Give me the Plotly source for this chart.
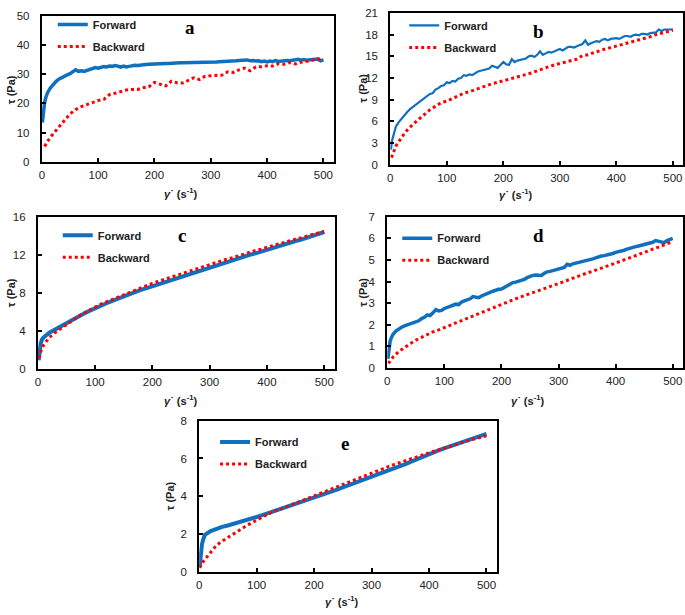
import plotly.graph_objects as go

W, H = 685, 615

# ---------------- data ----------------
# panel a
fa_x = [1, 2, 3, 5, 7.5] + list(range(10, 505, 5))
fa_y = [13.5, 16.0, 18.0, 20.5, 22.3,
        23.6, 25.3, 26.5, 27.5, 28.3, 28.9, 29.4, 29.8, 30.2, 30.8,
        31.5, 31.0, 31.2, 31.0, 31.4, 31.6, 32.0, 32.3, 32.1, 32.4,
        32.6, 32.5, 32.8, 32.7, 33.0, 32.8, 32.4, 32.8, 32.5, 32.7,
        33.0, 33.1, 33.0, 33.2, 33.3, 33.3, 33.4, 33.5, 33.5, 33.6,
        33.6, 33.6, 33.7, 33.7, 33.8, 33.8, 33.8, 33.9, 33.9, 33.9,
        34.0, 34.0, 34.0, 34.0, 34.1, 34.1, 34.0, 34.1, 34.1, 34.2,
        34.2, 34.3, 34.3, 34.4, 34.4, 34.5, 34.5, 34.6, 34.7, 34.7,
        34.8, 34.9, 34.6, 34.7, 34.5, 34.6, 34.3, 34.5, 34.2, 34.5,
        34.3, 34.7, 34.4, 34.6, 34.5, 34.7, 34.6, 34.8, 34.7, 35.1,
        34.8, 35.0, 34.8, 35.0, 34.9, 35.1, 35.2, 34.6, 34.9]
ba_x = [5] + list(range(10, 510, 10))
ba_y = [5.3, 7.0, 9.6, 12.0, 14.4, 16.4, 17.9, 18.9, 19.6, 20.4, 21.0,
        21.4, 23.0, 23.5, 24.0, 24.6, 24.8, 24.8, 25.4, 25.7, 27.2,
        26.6, 26.0, 27.6, 27.1, 27.0, 27.8, 28.8, 28.2, 29.3, 29.5,
        29.6, 29.7, 30.8, 30.6, 31.5, 32.1, 31.2, 32.5, 32.6, 32.9,
        32.8, 33.6, 33.4, 34.0, 33.5, 34.1, 34.4, 34.9, 35.2, 35.3]

# panel b
fb_x = [1, 2, 3, 5, 7.5] + list(range(10, 505, 5))
fb_y = [2.1, 2.8, 3.3, 3.9, 4.7,
        5.3, 5.9, 6.4, 6.9, 7.3, 7.7, 8.0, 8.3, 8.6, 9.0,
        9.3, 9.5, 9.8, 9.9, 10.4, 10.6, 10.9, 11.0, 11.4, 11.3,
        11.6, 11.5, 11.9, 12.0, 12.4, 12.3, 12.5, 12.4, 12.7, 12.9,
        13.0, 13.1, 13.1, 13.3, 13.7, 13.5, 13.4, 13.8, 14.2, 13.9,
        13.8, 14.6, 14.2, 14.4, 14.5, 14.7, 14.7, 15.0, 15.1, 14.9,
        15.2, 15.7, 15.2, 15.4, 15.6, 15.5, 15.7, 15.8, 16.0, 15.8,
        16.1, 16.3, 16.3, 16.2, 16.4, 16.6, 16.7, 17.2, 16.6, 16.8,
        16.9, 17.1, 17.0, 17.3, 17.4, 17.2, 17.4, 17.5, 17.5, 17.4,
        17.6, 17.8, 17.8, 17.7, 17.9, 18.0, 17.9, 18.1, 18.1, 18.0,
        18.2, 18.3, 18.3, 18.7, 18.5, 18.7, 18.7, 18.6, 18.7]
bb_x = [2, 5] + list(range(10, 510, 10))
bb_y = [1.0, 1.6, 2.6, 3.8, 4.8, 5.6, 6.3, 7.0, 7.6, 8.1, 8.6, 8.8,
        9.2, 9.5, 9.9, 10.1, 10.4, 10.7, 11.0, 11.2, 11.4, 11.6,
        11.9, 12.0, 12.3, 12.5, 12.7, 13.0, 13.3, 13.6, 13.8, 14.0,
        14.2, 14.4, 14.6, 15.1, 15.2, 15.5, 15.8, 16.0, 16.2, 16.4,
        16.6, 16.8, 17.0, 17.2, 17.4, 17.7, 18.0, 18.2, 18.4, 18.6]

# panel c
fc_x = [1.5, 2, 3, 5, 7.5] + list(range(10, 510, 10))
fc_y = [0.9, 1.4, 2.0, 2.7, 3.1,
        3.3, 3.8, 4.15, 4.5, 4.8, 5.15, 5.5, 5.8, 6.1, 6.4,
        6.65, 6.9, 7.15, 7.4, 7.6, 7.85, 8.05, 8.3, 8.5, 8.7,
        8.9, 9.1, 9.3, 9.5, 9.7, 9.9, 10.1, 10.3, 10.5, 10.7,
        10.9, 11.05, 11.25, 11.45, 11.6, 11.8, 12.0, 12.15, 12.35, 12.5,
        12.7, 12.9, 13.05, 13.25, 13.45, 13.6, 13.8, 14.0, 14.2, 14.4]
bc_x = [2, 5] + list(range(10, 510, 10))
bc_y = [1.1, 1.8, 2.5, 3.3, 3.8, 4.25, 4.7, 5.1, 5.5, 5.85, 6.2, 6.5,
        6.8, 7.05, 7.3, 7.55, 7.8, 8.05, 8.3, 8.55, 8.8, 9.0,
        9.2, 9.4, 9.6, 9.8, 10.0, 10.2, 10.4, 10.6, 10.8, 11.0,
        11.2, 11.35, 11.55, 11.7, 11.9, 12.1, 12.25, 12.45, 12.6, 12.8,
        12.95, 13.15, 13.3, 13.5, 13.65, 13.8, 14.0, 14.15, 14.3, 14.45]

# panel d
fd_x = [1, 2, 3, 5, 7.5] + list(range(10, 505, 5))
fd_y = [0.42, 0.75, 1.0, 1.25, 1.42,
        1.55, 1.7, 1.8, 1.88, 1.94, 1.98, 2.02, 2.06, 2.12, 2.18,
        2.28, 2.34, 2.45, 2.42, 2.55, 2.7, 2.64, 2.66, 2.75, 2.78,
        2.85, 2.9, 2.95, 2.93, 3.05, 3.1, 3.15, 3.2, 3.3, 3.26,
        3.25, 3.33, 3.4, 3.45, 3.5, 3.55, 3.6, 3.64, 3.65, 3.72,
        3.8, 3.85, 3.95, 3.97, 4.0, 4.05, 4.1, 4.18, 4.25, 4.28,
        4.3, 4.3, 4.28, 4.38, 4.45, 4.47, 4.5, 4.55, 4.55, 4.6,
        4.65, 4.8, 4.75, 4.82, 4.85, 4.87, 4.9, 4.93, 4.95, 5.0,
        5.05, 5.1, 5.15, 5.18, 5.2, 5.22, 5.25, 5.3, 5.35, 5.37,
        5.4, 5.45, 5.5, 5.55, 5.6, 5.62, 5.65, 5.68, 5.7, 5.72,
        5.75, 5.82, 5.9, 5.87, 5.85, 5.8, 5.9, 5.95, 6.0]
bd_x = [2] + list(range(10, 510, 10))
bd_y = [0.2, 0.5, 0.75, 0.95, 1.12, 1.28, 1.42, 1.55, 1.67, 1.76, 1.85,
        1.97, 2.08, 2.19, 2.3, 2.4, 2.51, 2.62, 2.73, 2.84, 2.95,
        3.05, 3.15, 3.25, 3.35, 3.45, 3.54, 3.63, 3.72, 3.81, 3.9,
        4.0, 4.1, 4.2, 4.3, 4.4, 4.49, 4.58, 4.67, 4.76, 4.85,
        4.95, 5.05, 5.15, 5.25, 5.35, 5.45, 5.55, 5.65, 5.75, 5.85]

# panel e
fe_x = [1, 2, 3, 5, 7.5] + list(range(10, 510, 10))
fe_y = [0.26, 0.6, 0.95, 1.47, 1.75,
        1.95, 2.15, 2.28, 2.38, 2.45, 2.53, 2.61, 2.7, 2.8, 2.9,
        3.0, 3.1, 3.2, 3.3, 3.4, 3.5, 3.6, 3.7, 3.8, 3.9,
        4.01, 4.12, 4.23, 4.35, 4.47, 4.58, 4.7, 4.82, 4.94, 5.05,
        5.16, 5.27, 5.38, 5.49, 5.6, 5.72, 5.85, 5.98, 6.12, 6.25,
        6.36, 6.47, 6.58, 6.69, 6.8, 6.9, 7.0, 7.1, 7.2, 7.3]
be_x = [1, 5] + list(range(10, 510, 10))
be_y = [0.2, 0.45, 0.65, 1.05, 1.4, 1.62, 1.8, 2.0, 2.2, 2.4, 2.58, 2.75,
        2.9, 3.05, 3.2, 3.3, 3.42, 3.55, 3.68, 3.8, 3.93, 4.05,
        4.17, 4.29, 4.41, 4.53, 4.65, 4.77, 4.89, 5.01, 5.13, 5.25,
        5.36, 5.47, 5.58, 5.69, 5.8, 5.9, 6.0, 6.1, 6.2, 6.3,
        6.4, 6.5, 6.6, 6.7, 6.8, 6.88, 6.96, 7.04, 7.12, 7.2]

x_ticks = [0, 100, 200, 300, 400, 500]
panel_letters = ["a", "b", "c", "d", "e"]
y_max = [50, 21, 16, 7, 8]
y_dtick = [10, 3, 4, 1, 2]
series_names = ["Forward", "Backward"]

# ---------------- layout geometry (pixels) ----------------
boxes = [  # left, right, top, bottom
    (39, 332, 10, 159),
    (389, 683, 7, 162),
    (35, 333, 215, 370),
    (386, 683, 215, 369),
    (197, 496, 423, 577),
]
fwd_width = [3.5, 2.2, 4, 3.5, 4]
legend_pos = [(50, 4), (403, 5), (55, 219), (396, 222), (213, 430)]
letter_pos = [(188, 22), (538, 26), (180, 234), (538, 234), (344, 446)]
xtitle_pos = [(178, 191), (515, 192), (178, 402), (527, 402), (340, 607)]
ytitle_pos = [(8, 85), (362, 84), (8, 292), (362, 292), (168, 500)]

BLUE = "#1070C0"
RED = "#FF0000"
FONT = "Arial, Liberation Sans, sans-serif"

data = [(fa_x, fa_y, ba_x, ba_y), (fb_x, fb_y, bb_x, bb_y), (fc_x, fc_y, bc_x, bc_y),
        (fd_x, fd_y, bd_x, bd_y), (fe_x, fe_y, be_x, be_y)]

fig = go.Figure()
layout = dict(width=W, height=H, margin=dict(l=0, r=0, t=0, b=0),
              paper_bgcolor="white", plot_bgcolor="white", showlegend=True)
annotations = []

def px(x):
    return x / W

def py(y):
    return 1 - y / H

for i, (fx, fy, bx, by) in enumerate(data):
    n = "" if i == 0 else str(i + 1)
    leg = "legend" if i == 0 else "legend" + str(i + 1)
    fig.add_trace(go.Scatter(x=fx, y=fy, mode="lines", name=series_names[0],
                             line=dict(color=BLUE, width=fwd_width[i]),
                             xaxis="x" + n, yaxis="y" + n, legend=leg,
                             legendgroup="f" + str(i), hoverinfo="skip"))
    fig.add_trace(go.Scatter(x=bx, y=by, mode="lines", name=series_names[1],
                             line=dict(color=RED, width=3, dash="dot"),
                             xaxis="x" + n, yaxis="y" + n, legend=leg,
                             legendgroup="b" + str(i), hoverinfo="skip"))
    l, r, t, b = boxes[i]
    axis_common = dict(showline=True, linecolor="black", linewidth=2, mirror=True,
                       ticks="inside", ticklen=4, tickwidth=1.5, tickcolor="black",
                       showgrid=False, zeroline=False, fixedrange=True,
                       tickfont=dict(family=FONT, size=11.5, color="#222"))
    layout["xaxis" + n] = dict(axis_common, domain=[px(l), px(r)], range=[0, 518],
                               tickvals=x_ticks, anchor="y" + n, ticklabelstandoff=1)
    layout["yaxis" + n] = dict(axis_common, domain=[py(b), py(t)], range=[0, y_max[i]],
                               dtick=y_dtick[i], tick0=0, anchor="x" + n,
                               ticklabelstandoff=8)
    lx, ly = legend_pos[i]
    layout[leg] = dict(x=px(lx), y=py(ly), xanchor="left", yanchor="top",
                       bgcolor="rgba(0,0,0,0)", borderwidth=0,
                       font=dict(family=FONT, size=11, color="#222", weight="bold"),
                       traceorder="grouped", tracegroupgap=3, itemwidth=30)
    annotations.append(dict(text="<b>" + panel_letters[i] + "</b>", x=px(letter_pos[i][0]),
                            y=py(letter_pos[i][1]), xref="paper", yref="paper",
                            showarrow=False, xanchor="center", yanchor="middle",
                            font=dict(family="Liberation Serif, Times New Roman, serif",
                                      size=19, color="black")))
    annotations.append(dict(text="<b><i>γ</i>˙ (s<sup>-1</sup>)</b>", x=px(xtitle_pos[i][0]),
                            y=py(xtitle_pos[i][1]), xref="paper", yref="paper",
                            showarrow=False, xanchor="center", yanchor="middle",
                            font=dict(family=FONT, size=11, color="#222")))
    annotations.append(dict(text="<b>τ (Pa)</b>", x=px(ytitle_pos[i][0]),
                            y=py(ytitle_pos[i][1]), xref="paper", yref="paper",
                            showarrow=False, xanchor="center", yanchor="middle",
                            textangle=-90,
                            font=dict(family=FONT, size=11, color="#222")))

layout["annotations"] = annotations
fig.update_layout(**layout)
fig.write_html("out.html", config={"displayModeBar": False},
               post_script="document.body.style.margin='0';document.body.style.overflow='hidden';")
